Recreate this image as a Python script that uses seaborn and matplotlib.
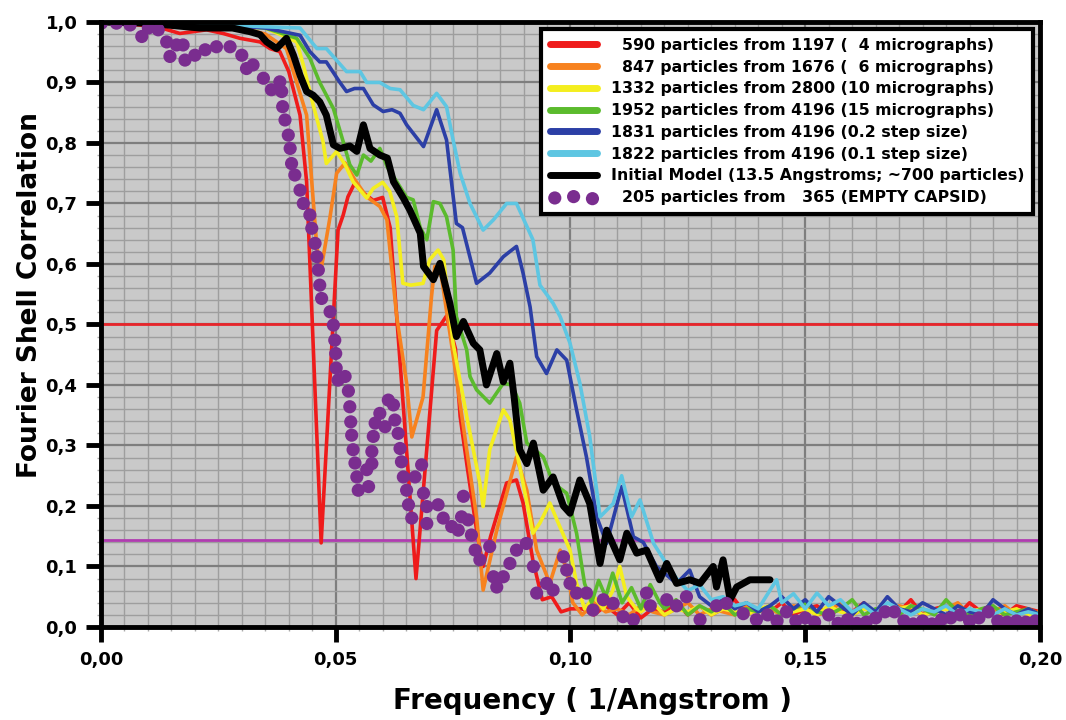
import matplotlib
matplotlib.use("Agg")
import matplotlib.pyplot as plt
from matplotlib.ticker import MultipleLocator, FuncFormatter
import seaborn as sns

sns.set_style("ticks")
plt.rcParams['font.family'] = ['DejaVu Sans']
plt.rcParams['font.weight'] = 'bold'
plt.rcParams['text.color'] = 'black'
plt.rcParams['axes.labelcolor'] = 'black'
plt.rcParams['xtick.color'] = 'black'
plt.rcParams['ytick.color'] = 'black'

# ---------------- data ----------------
TAIL_X = [0.1025, 0.105, 0.1075, 0.11, 0.1125, 0.115, 0.1175, 0.12, 0.1225, 0.125,
          0.1275, 0.13, 0.1325, 0.135, 0.1375, 0.14, 0.1425, 0.145, 0.1475, 0.15,
          0.1525, 0.155, 0.1575, 0.16, 0.1625, 0.165, 0.1675, 0.17, 0.1725, 0.175,
          0.1775, 0.18, 0.1825, 0.185, 0.1875, 0.19, 0.1925, 0.195, 0.1975, 0.2]

red_x = [0, 0.004, 0.008, 0.012, 0.0168, 0.0225, 0.026, 0.0296, 0.0339, 0.036, 0.0381, 0.040,
         0.0424, 0.0438, 0.0469, 0.0505, 0.0516, 0.0526, 0.054, 0.0555, 0.058, 0.060, 0.0616,
         0.0671, 0.0715, 0.0736, 0.0755, 0.0765, 0.078, 0.080, 0.0814, 0.083, 0.0864, 0.0885,
         0.0899, 0.092, 0.094, 0.096, 0.098, 0.100]
red_y = [1.0, 0.998, 0.995, 0.992, 0.981, 0.987, 0.981, 0.973, 0.967, 0.956, 0.951, 0.918,
         0.846, 0.736, 0.139, 0.656, 0.681, 0.711, 0.733, 0.72, 0.705, 0.71, 0.66,
         0.08, 0.49, 0.514, 0.46, 0.348, 0.265, 0.16, 0.10, 0.15, 0.238, 0.243,
         0.205, 0.11, 0.045, 0.05, 0.025, 0.03]
red_tail = [0.03, 0.02, 0.035, 0.02, 0.04, 0.015, 0.03, 0.025, 0.04, 0.02, 0.035, 0.02, 0.03,
            0.045, 0.02, 0.03, 0.025, 0.04, 0.02, 0.03, 0.035, 0.02, 0.03, 0.025, 0.04, 0.02,
            0.03, 0.025, 0.045, 0.02, 0.03, 0.035, 0.02, 0.04, 0.025, 0.03, 0.02, 0.035, 0.03, 0.025]

orange_x = [0, 0.02, 0.03, 0.035, 0.0395, 0.0417, 0.0438, 0.0449, 0.046, 0.047, 0.0488, 0.0502,
            0.052, 0.054, 0.0566, 0.0594, 0.0609, 0.063, 0.0651, 0.0662, 0.0686, 0.0704, 0.0711,
            0.0725, 0.075, 0.0779, 0.080, 0.0814, 0.0843, 0.0885, 0.0907, 0.0928, 0.0956,
            0.0978, 0.0992, 0.1005]
orange_y = [1.0, 0.997, 0.99, 0.98, 0.956, 0.90, 0.846, 0.736, 0.626, 0.596, 0.678, 0.75,
            0.767, 0.74, 0.711, 0.695, 0.673, 0.513, 0.403, 0.314, 0.38, 0.546, 0.596,
            0.58, 0.45, 0.293, 0.182, 0.061, 0.16, 0.281, 0.226, 0.127, 0.072,
            0.127, 0.094, 0.04]
orange_tail = [0.02, 0.04, 0.025, 0.03, 0.02, 0.035, 0.025, 0.02, 0.03, 0.04, 0.02, 0.03, 0.025,
               0.02, 0.035, 0.025, 0.03, 0.02, 0.035, 0.03, 0.02, 0.025, 0.04, 0.02, 0.03, 0.025,
               0.02, 0.035, 0.03, 0.02, 0.025, 0.03, 0.04, 0.02, 0.03, 0.025, 0.035, 0.02, 0.03, 0.02]

yellow_x = [0, 0.02, 0.035, 0.0417, 0.0431, 0.0452, 0.0473, 0.048, 0.0502, 0.052, 0.0537, 0.0566,
            0.058, 0.060, 0.0615, 0.063, 0.0643, 0.066, 0.0686, 0.070, 0.0718, 0.073, 0.075,
            0.0779, 0.0807, 0.0814, 0.0828, 0.0857, 0.0871, 0.0892, 0.092, 0.0935, 0.0956,
            0.0975, 0.0999, 0.1013, 0.103, 0.105, 0.107, 0.109, 0.1105, 0.112, 0.114]
yellow_y = [1.0, 0.998, 0.99, 0.967, 0.929, 0.863, 0.802, 0.766, 0.786, 0.764, 0.736, 0.709,
            0.725, 0.735, 0.72, 0.678, 0.568, 0.565, 0.568, 0.607, 0.623, 0.607, 0.469,
            0.348, 0.238, 0.199, 0.293, 0.359, 0.342, 0.265, 0.155, 0.172, 0.205,
            0.17, 0.127, 0.072, 0.03, 0.05, 0.03, 0.06, 0.10, 0.05, 0.03]
yellow_tail = [0.025, 0.04, 0.02, 0.03, 0.025, 0.035, 0.02, 0.03, 0.025, 0.02, 0.03, 0.035,
               0.02, 0.025, 0.03, 0.02, 0.035, 0.025, 0.02, 0.03, 0.025, 0.02, 0.03, 0.035,
               0.02, 0.025, 0.03, 0.02, 0.025, 0.03, 0.02, 0.025, 0.03, 0.02, 0.025]

green_x = [0, 0.02, 0.035, 0.0417, 0.0445, 0.0466, 0.0495, 0.0516, 0.053, 0.0545, 0.0559, 0.0575,
           0.0594, 0.061, 0.063, 0.0651, 0.0665, 0.068, 0.0694, 0.0708, 0.0722, 0.0736, 0.075,
           0.0757, 0.0779, 0.0786, 0.080, 0.0828, 0.0857, 0.0875, 0.0892, 0.0907, 0.0942,
           0.0963, 0.0992, 0.1013, 0.103, 0.1045, 0.106, 0.1075, 0.109, 0.111, 0.113, 0.115,
           0.117, 0.119]
green_y = [1.0, 0.998, 0.99, 0.973, 0.94, 0.90, 0.857, 0.802, 0.764, 0.747, 0.78, 0.77,
           0.791, 0.76, 0.736, 0.71, 0.706, 0.66, 0.64, 0.703, 0.70, 0.678, 0.623,
           0.513, 0.458, 0.414, 0.392, 0.37, 0.403, 0.40, 0.37, 0.304, 0.281,
           0.238, 0.221, 0.155, 0.072, 0.04, 0.077, 0.05, 0.089, 0.04, 0.065, 0.03,
           0.07, 0.04]
green_tail = [0.03, 0.045, 0.02, 0.035, 0.025, 0.04, 0.02, 0.03, 0.025, 0.035, 0.02, 0.03,
              0.04, 0.025, 0.02, 0.03, 0.045, 0.02, 0.03, 0.025, 0.02, 0.035, 0.03, 0.02,
              0.045, 0.025, 0.02, 0.03, 0.035, 0.02, 0.025, 0.03, 0.02]

blue_x = [0, 0.02, 0.035, 0.0424, 0.0445, 0.0466, 0.048, 0.0509, 0.0523, 0.054, 0.0559, 0.058,
          0.0601, 0.062, 0.0637, 0.0651, 0.0665, 0.0687, 0.0715, 0.0736, 0.0757, 0.077, 0.080,
          0.0828, 0.0857, 0.087, 0.0885, 0.0899, 0.0914, 0.0928, 0.0949, 0.0971, 0.0992,
          0.1013, 0.1034, 0.1056, 0.1077, 0.1109, 0.1134, 0.1155, 0.1183, 0.1226, 0.1254]
blue_y = [1.0, 0.998, 0.99, 0.978, 0.951, 0.934, 0.934, 0.90, 0.885, 0.89, 0.89, 0.863,
          0.852, 0.855, 0.849, 0.83, 0.816, 0.794, 0.855, 0.805, 0.667, 0.66, 0.568,
          0.585, 0.612, 0.62, 0.629, 0.585, 0.529, 0.447, 0.419, 0.458, 0.441,
          0.359, 0.281, 0.182, 0.138, 0.232, 0.149, 0.14, 0.10, 0.072, 0.094]
blue_tail = [0.05, 0.035, 0.045, 0.03, 0.04, 0.025, 0.035, 0.05, 0.03, 0.045, 0.025, 0.05,
             0.035, 0.02, 0.04, 0.025, 0.05, 0.03, 0.025, 0.04, 0.03, 0.02, 0.035, 0.025,
             0.02, 0.045, 0.03, 0.02, 0.03, 0.02]

cyan_x = [0, 0.02, 0.035, 0.0424, 0.046, 0.048, 0.0523, 0.0552, 0.0566, 0.0594, 0.0616, 0.0637,
          0.0665, 0.0687, 0.0715, 0.0736, 0.075, 0.0765, 0.0786, 0.0814, 0.0836, 0.0864,
          0.0885, 0.092, 0.0935, 0.0963, 0.0978, 0.0999, 0.102, 0.1041, 0.1063, 0.1091,
          0.1109, 0.113, 0.1148, 0.1177, 0.12, 0.1226, 0.125, 0.1275, 0.13, 0.1325, 0.135,
          0.1375, 0.14, 0.1439]
cyan_y = [1.0, 0.998, 0.992, 0.99, 0.956, 0.956, 0.918, 0.918, 0.90, 0.90, 0.89, 0.888,
          0.862, 0.855, 0.882, 0.86, 0.805, 0.75, 0.70, 0.656, 0.673, 0.70,
          0.70, 0.64, 0.565, 0.535, 0.513, 0.469, 0.403, 0.315, 0.182, 0.204,
          0.25, 0.182, 0.21, 0.138, 0.11, 0.08, 0.06, 0.07, 0.045, 0.05, 0.035,
          0.04, 0.03, 0.078]
cyan_tail = [0.04, 0.055, 0.03, 0.056, 0.035, 0.045, 0.025, 0.035, 0.02, 0.04, 0.03, 0.02,
             0.03, 0.025, 0.035, 0.02, 0.03, 0.025, 0.02, 0.03, 0.02, 0.025, 0.02]

black_x = [0, 0.01, 0.021, 0.028, 0.0317, 0.0339, 0.0353, 0.0374, 0.0395, 0.041, 0.0424, 0.0438,
           0.0452, 0.0466, 0.048, 0.0495, 0.0509, 0.053, 0.0545, 0.0559, 0.0573, 0.0594, 0.061,
           0.0623, 0.0644, 0.0658, 0.068, 0.0687, 0.0708, 0.0722, 0.0743, 0.0757, 0.0772,
           0.0793, 0.0807, 0.0821, 0.0843, 0.0857, 0.0871, 0.088, 0.0892, 0.0907, 0.0921,
           0.0942, 0.0963, 0.0985, 0.0999, 0.102, 0.1041, 0.1063, 0.1077, 0.1105, 0.112,
           0.1141, 0.1162, 0.119, 0.1205, 0.1226, 0.1254, 0.1276, 0.1304, 0.1311, 0.1325,
           0.134, 0.1354, 0.1382, 0.1425]
black_y = [1.0, 0.998, 0.99, 0.99, 0.984, 0.979, 0.967, 0.956, 0.973, 0.945, 0.912, 0.885,
           0.879, 0.868, 0.846, 0.797, 0.791, 0.795, 0.786, 0.83, 0.791, 0.78, 0.775,
           0.736, 0.709, 0.689, 0.651, 0.596, 0.574, 0.601, 0.535, 0.48, 0.505,
           0.469, 0.458, 0.40, 0.452, 0.405, 0.436, 0.38, 0.293, 0.27, 0.304,
           0.226, 0.248, 0.20, 0.188, 0.243, 0.204, 0.105, 0.16, 0.111, 0.155,
           0.122, 0.127, 0.078, 0.105, 0.072, 0.078, 0.072, 0.10, 0.066, 0.111,
           0.045, 0.066, 0.078, 0.078]

capsid_x = [0.0001, 0.0033, 0.0062, 0.0087, 0.0101, 0.0122, 0.014, 0.0147, 0.0161, 0.0175, 0.0179,
            0.02, 0.0222, 0.0246, 0.0275, 0.03, 0.031, 0.0324, 0.0346, 0.0363, 0.0381, 0.0385,
            0.0387, 0.0392, 0.0399, 0.0403, 0.0406, 0.0413, 0.0424, 0.0431, 0.0445, 0.0449,
            0.0456, 0.046, 0.0463, 0.0466, 0.047, 0.0488, 0.0495, 0.0498, 0.050, 0.0501, 0.0505,
            0.052, 0.0527, 0.053, 0.0532, 0.0534, 0.0537, 0.0541, 0.0545, 0.0548, 0.0566, 0.057,
            0.0577, 0.0577, 0.058, 0.0584, 0.0594, 0.0605, 0.0612, 0.0623, 0.0626, 0.0633,
            0.0637, 0.064, 0.0644, 0.0651, 0.0655, 0.0662, 0.0669, 0.0683, 0.0687, 0.0694,
            0.0694, 0.0718, 0.0729, 0.0747, 0.0761, 0.0768, 0.0772, 0.0782, 0.0789, 0.0797,
            0.0807, 0.0828, 0.0836, 0.0843, 0.0857, 0.0871, 0.0885, 0.0906, 0.0921, 0.0928,
            0.0949, 0.0963, 0.0985, 0.0992, 0.0999, 0.1013, 0.1034, 0.1048, 0.107, 0.1091,
            0.1112, 0.1134, 0.1162, 0.117, 0.1205, 0.1226, 0.1247, 0.1276, 0.1311, 0.1332,
            0.1368, 0.1396, 0.142, 0.144, 0.146, 0.148, 0.150, 0.152, 0.155, 0.157, 0.159,
            0.161, 0.163, 0.165, 0.167, 0.169, 0.171, 0.173, 0.175, 0.177, 0.179, 0.181,
            0.183, 0.185, 0.187, 0.189, 0.191, 0.193, 0.195, 0.197, 0.199]
capsid_y = [0.998, 0.998, 0.995, 0.976, 0.99, 0.987, 0.967, 0.943, 0.962, 0.962, 0.937,
            0.945, 0.954, 0.959, 0.959, 0.945, 0.923, 0.929, 0.907, 0.888, 0.901, 0.885,
            0.86, 0.838, 0.813, 0.791, 0.766, 0.747, 0.722, 0.70, 0.681, 0.659,
            0.634, 0.612, 0.59, 0.565, 0.543, 0.521, 0.499, 0.474, 0.452, 0.428, 0.408,
            0.414, 0.39, 0.364, 0.339, 0.317, 0.293, 0.271, 0.248, 0.226, 0.26, 0.232,
            0.27, 0.29, 0.315, 0.337, 0.353, 0.331, 0.375, 0.367, 0.342, 0.32,
            0.295, 0.273, 0.248, 0.226, 0.202, 0.18, 0.248, 0.268, 0.221, 0.199,
            0.171, 0.202, 0.18, 0.166, 0.16, 0.182, 0.216, 0.177, 0.152, 0.127,
            0.111, 0.133, 0.083, 0.066, 0.083, 0.105, 0.127, 0.138, 0.10, 0.056,
            0.072, 0.061, 0.116, 0.094, 0.072, 0.056, 0.056, 0.028, 0.045, 0.039,
            0.017, 0.012, 0.056, 0.035, 0.045, 0.035, 0.05, 0.012, 0.035, 0.039,
            0.022, 0.012, 0.02, 0.01, 0.025, 0.01, 0.015, 0.008, 0.02, 0.006, 0.012,
            0.006, 0.008, 0.015, 0.025, 0.025, 0.01, 0.005, 0.01, 0.005, 0.012, 0.015,
            0.02, 0.01, 0.015, 0.025, 0.01, 0.008, 0.01, 0.008, 0.01]

LABELS = ["\u2007590 particles from 1197 (\u20074 micrographs)",
          "\u2007847 particles from 1676 (\u20076 micrographs)",
          "1332 particles from 2800 (10 micrographs)",
          "1952 particles from 4196 (15 micrographs)",
          "1831 particles from 4196 (0.2 step size)",
          "1822 particles from 4196 (0.1 step size)",
          "Initial Model (13.5 Angstroms; ~700 particles)",
          "\u2007205 particles from \u2007365 (EMPTY CAPSID)"]
COLORS = ["#ef1b1b", "#f7821f", "#f4ee1f", "#5bbb2d", "#2c3fa6", "#5ec6e2", "#000000", "#7a2d8f"]

series = [
    (red_x + TAIL_X[0:], red_y + red_tail),
    (orange_x + TAIL_X[0:], orange_y + orange_tail),
    (yellow_x + TAIL_X[5:], yellow_y + yellow_tail),
    (green_x + TAIL_X[7:], green_y + green_tail),
    (blue_x + TAIL_X[10:], blue_y + blue_tail),
    (cyan_x + TAIL_X[17:], cyan_y + cyan_tail),
    (black_x, black_y),
]

# ---------------- figure ----------------
fig = plt.figure(figsize=(10.66, 7.2), dpi=100)
ax = fig.add_axes([0.0947, 0.1292, 0.8809, 0.8403])
ax.set_facecolor("#c9c9c9")

for i, (xs, ys) in enumerate(series):
    lw = 5.0 if i == 6 else 2.6
    sns.lineplot(x=xs, y=ys, ax=ax, color=COLORS[i], linewidth=lw, label=LABELS[i],
                 estimator=None, sort=False, zorder=3 + i * 0.1)

sns.scatterplot(x=capsid_x, y=capsid_y, ax=ax, color=COLORS[7], s=90, edgecolor="none",
                label=LABELS[7], zorder=5)

ax.axhline(0.5, color="#e8252a", lw=2.0, zorder=2)
ax.axhline(0.143, color="#b03cb0", lw=2.0, zorder=2)

ax.set_xlim(0, 0.2)
ax.set_ylim(0, 1.0)
ax.xaxis.set_major_locator(MultipleLocator(0.05))
ax.xaxis.set_minor_locator(MultipleLocator(0.005))
ax.yaxis.set_major_locator(MultipleLocator(0.1))
ax.yaxis.set_minor_locator(MultipleLocator(0.02))
ax.xaxis.set_major_formatter(FuncFormatter(lambda v, p: f"{v:.2f}".replace(".", ",")))
ax.yaxis.set_major_formatter(FuncFormatter(lambda v, p: f"{v:.1f}".replace(".", ",")))

ax.set_axisbelow(True)
ax.grid(which="minor", color="#9e9e9e", lw=1.0)
ax.grid(which="major", color="#7e7e7e", lw=1.6)

for s in ax.spines.values():
    s.set_visible(True)
    s.set_linewidth(3.5)
    s.set_color("black")
    s.set_zorder(6)

ax.tick_params(which="major", direction="out", length=11, width=3.5, color="black",
               labelcolor="black", labelsize=13, pad=6)
ax.tick_params(which="minor", direction="out", length=3, width=1, color="#aaaaaa")
for lab in ax.get_xticklabels() + ax.get_yticklabels():
    lab.set_fontweight("bold")

ax.set_xlabel("Frequency ( 1/Angstrom )", fontsize=20, fontweight="bold", color="black")
ax.set_ylabel("Fourier Shell Correlation", fontsize=19, fontweight="bold", color="black")
ax.xaxis.set_label_coords(0.523, -0.100)
ax.yaxis.set_label_coords(-0.062, 0.549)

leg = ax.legend(loc="upper right", bbox_to_anchor=(0.993, 0.988), borderaxespad=0,
                fontsize=11.3, frameon=True, fancybox=False, framealpha=1,
                edgecolor="black", handlelength=3.0, scatterpoints=3,
                labelspacing=0.43, borderpad=0.55, handletextpad=0.9)
leg.get_frame().set_linewidth(3)
leg.set_zorder(10)
for line in leg.get_lines():
    line.set_linewidth(5)
for t in leg.get_texts():
    t.set_fontweight("bold")
    t.set_color("black")

fig.savefig("out.png", dpi=100)
